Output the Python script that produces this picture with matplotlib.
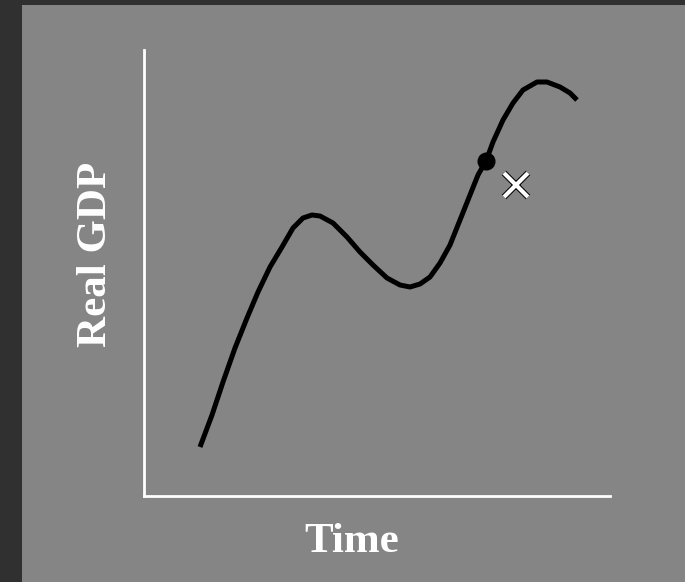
import matplotlib
matplotlib.use("Agg")
import matplotlib.pyplot as plt
import matplotlib.patheffects as pe
from matplotlib.patches import Rectangle

# Data (arbitrary units)
time = [55, 67, 78, 90, 102, 113, 125, 137, 148, 158, 167, 175, 188, 202, 215, 228,
        242, 255, 265, 275, 285, 295, 305, 315, 325, 333, 341, 348, 358, 368, 378,
        392, 402, 415, 425, 432]
gdp = [49, 81, 114, 148, 178, 204, 229, 249, 268, 278, 281, 280, 273, 259, 244, 231,
       218, 211, 209, 212, 219, 233, 251, 276, 301, 321, 335, 354, 376, 393, 406,
       414, 414, 409, 403, 396]
dot_time, dot_gdp = [341], [335]
x_time, x_gdp = [371], [311]
x_label = "Time"
y_label = "Real GDP"

W, H = 685, 582
fig = plt.figure(figsize=(W / 100, H / 100), dpi=100)
fig.patch.set_facecolor("#303030")

bg = fig.add_axes([0, 0, 1, 1], zorder=0)
bg.set_axis_off()
bg.set_xlim(0, 1)
bg.set_ylim(0, 1)
bg.add_patch(Rectangle((22 / W, 0), 1 - 22 / W, 1 - 5 / H,
                       facecolor="#858585", edgecolor="none"))

ax = fig.add_axes([144 / W, 1 - 496 / H, (610 - 144) / W, (496 - 50) / H], zorder=1)
ax.set_facecolor("none")
ax.set_xlim(-1, 465)
ax.set_ylim(0, 446)
for s in ["top", "right"]:
    ax.spines[s].set_visible(False)
for s in ["left", "bottom"]:
    ax.spines[s].set_color("white")
    ax.spines[s].set_linewidth(2)
ax.set_xticks([])
ax.set_yticks([])

ax.plot(time, gdp, color="black", lw=3.6, solid_capstyle="butt",
        solid_joinstyle="round")
ax.plot(dot_time, dot_gdp, "o", color="black", markersize=12)
ax.plot(x_time, x_gdp, marker="x", color="white", markersize=17,
        markeredgewidth=3.0, linestyle="none",
        path_effects=[pe.Stroke(linewidth=4.5, foreground="black"), pe.Normal()])

font = dict(family=["Liberation Serif", "DejaVu Serif"], fontweight="bold",
            color="white", fontsize=31)
fig.text(352 / W, 1 - 552 / H, x_label, ha="center", va="baseline", zorder=5, **font)
fig.text(96 / W, 1 - 254 / H, y_label, ha="center", va="center",
         rotation=90, zorder=5, **font)

fig.savefig("out.png", dpi=100, facecolor=fig.get_facecolor())
